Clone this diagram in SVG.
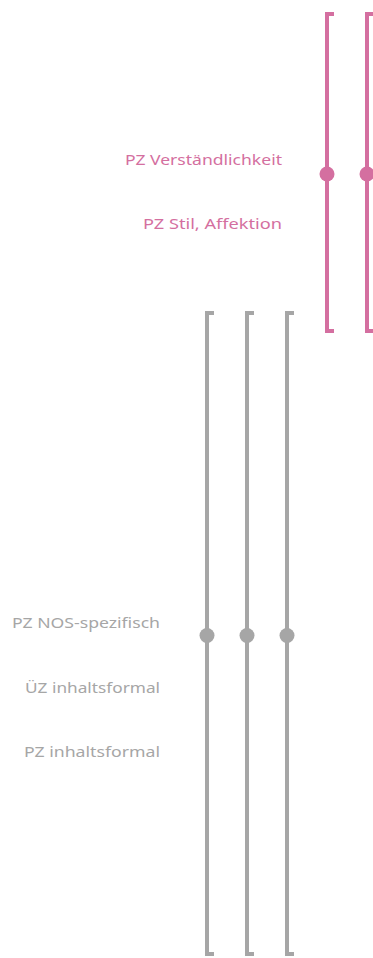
<svg xmlns="http://www.w3.org/2000/svg" width="373" height="958" viewBox="0 0 373 958">
<style>
.br{fill:none;stroke-width:4;stroke-linejoin:miter}
.pk{stroke:#D46FA0}
.gy{stroke:#A6A6A6}
.dpk{fill:#D46FA0}
.dgy{fill:#A6A6A6}
.t{font-family:"Noto Sans","Open Sans","Liberation Sans",sans-serif;font-size:15px;text-anchor:end}
.tpk{fill:#D46FA0}
.tgy{fill:#A6A6A6}
</style>
<rect width="373" height="958" fill="#FFFFFF"/>
<g id="labels">
<text id="l1" class="t tpk" x="282" y="165" textLength="157" lengthAdjust="spacingAndGlyphs">PZ Verständlichkeit</text>
<text id="l2" class="t tpk" x="282" y="229" textLength="139" lengthAdjust="spacingAndGlyphs">PZ Stil, Affektion</text>
<text id="l3" class="t tgy" x="160" y="628" textLength="148" lengthAdjust="spacingAndGlyphs">PZ NOS-spezifisch</text>
<text id="l4" class="t tgy" x="160" y="693" textLength="135" lengthAdjust="spacingAndGlyphs">ÜZ inhaltsformal</text>
<text id="l5" class="t tgy" x="160" y="757" textLength="136" lengthAdjust="spacingAndGlyphs">PZ inhaltsformal</text>
</g>
<g id="connectors">
<path class="br pk" d="M334,14 H327 V331 H334"/>
<path class="br pk" d="M374,14 H367 V331 H374"/>
<path class="br gy" d="M214,313 H207 V954 H214"/>
<path class="br gy" d="M254,313 H247 V954 H254"/>
<path class="br gy" d="M294,313 H287 V954 H294"/>
</g>
<g id="node-p1"><circle class="dpk" cx="327" cy="174" r="7.5"/></g>
<g id="node-p2"><circle class="dpk" cx="367" cy="174" r="7.5"/></g>
<g id="node-g1"><circle class="dgy" cx="207" cy="635.5" r="7.5"/></g>
<g id="node-g2"><circle class="dgy" cx="247" cy="635.5" r="7.5"/></g>
<g id="node-g3"><circle class="dgy" cx="287" cy="635.5" r="7.5"/></g>
</svg>
